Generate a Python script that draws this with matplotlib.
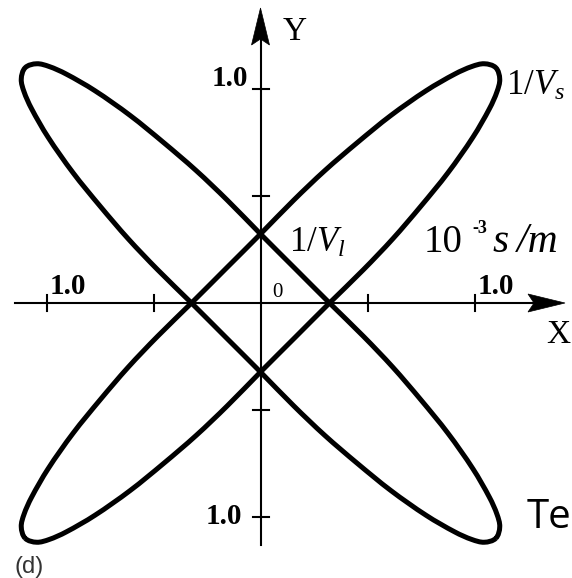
import numpy as np
import matplotlib.pyplot as plt
from matplotlib.path import Path
from matplotlib.patches import PathPatch, Polygon

plt.rcParams['mathtext.fontset'] = 'custom'
plt.rcParams['mathtext.rm'] = 'Liberation Serif'
plt.rcParams['mathtext.it'] = 'Liberation Serif:italic'
plt.rcParams['mathtext.bf'] = 'Liberation Serif:bold'

# half-width v of one slowness loop at distance u along its axis (10^-3 s/m)
prof_u = [0.0, 0.225, 0.45, 0.65, 0.85, 1.05, 1.25, 1.40, 1.48, 1.53, 1.555]
prof_v = [0.228, 0.228, 0.230, 0.225, 0.210, 0.189, 0.154, 0.114, 0.083, 0.051, 0.0]
loop_axes_deg = [135, 45]

tick_pos = [-1.0, -0.5, 0.5, 1.0]
tick_text = '1.0'

SCALE = 214.0  # pixels per unit
W, H = 572, 578
X0, Y0 = 260.5, 303.0

fig = plt.figure(figsize=(W / 100, H / 100), dpi=100)
ax = fig.add_axes([0, 0, 1, 1])
ax.set_xlim(-X0 / SCALE, (W - X0) / SCALE)
ax.set_ylim(-(H - Y0) / SCALE, Y0 / SCALE)
ax.set_aspect('equal')
ax.axis('off')


def loop_points(us, vs):
    us = np.asarray(us)
    vs = np.asarray(vs)
    # upper side from -tip to +tip, then lower side back
    up_u = np.concatenate([-us[:0:-1], us])
    up_v = np.concatenate([vs[:0:-1], vs])
    lo_u = up_u[-2:0:-1]
    lo_v = -up_v[-2:0:-1]
    return np.column_stack([np.concatenate([up_u, lo_u]),
                            np.concatenate([up_v, lo_v])])


def smooth_closed_path(pts):
    n = len(pts)
    tang = np.empty_like(pts)
    for i in range(n):
        d = pts[(i + 1) % n] - pts[i - 1]
        tang[i] = d / np.hypot(*d)
    verts = [pts[0]]
    codes = [Path.MOVETO]
    for i in range(n):
        p0 = pts[i]
        p1 = pts[(i + 1) % n]
        L = np.hypot(*(p1 - p0)) / 3
        verts += [p0 + tang[i] * L, p1 - tang[(i + 1) % n] * L, p1]
        codes += [Path.CURVE4] * 3
    return Path(verts, codes)


base = loop_points(prof_u, prof_v)
for ang in loop_axes_deg:
    a = np.deg2rad(ang)
    rot = np.array([[np.cos(a), -np.sin(a)], [np.sin(a), np.cos(a)]])
    pts = base @ rot.T
    ax.add_patch(PathPatch(smooth_closed_path(pts), fill=False, lw=3.6,
                           ec='black', joinstyle='round', zorder=3))

# axes with arrow heads
ax_lw = 1.5
x_end = (565 - X0) / SCALE
y_end = (Y0 - 8) / SCALE
ax.plot([-(X0 - 15) / SCALE, x_end - 0.1], [0, 0], color='black', lw=ax_lw, zorder=2)
ax.plot([0, 0], [-(545 - Y0) / SCALE, y_end - 0.1], color='black', lw=ax_lw, zorder=2)

hl, hw, nd = 37 / SCALE, 9 / SCALE, 6 / SCALE
ax.add_patch(Polygon([[x_end, 0], [x_end - hl, hw], [x_end - hl + nd, 0],
                      [x_end - hl, -hw]], closed=True, fc='black', ec='black', lw=0.5))
ax.add_patch(Polygon([[0, y_end], [hw, y_end - hl], [0, y_end - hl + nd],
                      [-hw, y_end - hl]], closed=True, fc='black', ec='black', lw=0.5))

tl = 8 / SCALE
for t in tick_pos:
    ax.plot([t, t], [-tl, tl], color='black', lw=ax_lw, zorder=2)
    ax.plot([-tl, tl], [t, t], color='black', lw=ax_lw, zorder=2)

serif = 'Liberation Serif'
bold = dict(family=serif, weight='bold', fontsize=21)
ax.text(-0.058, 1.0 + 3 / SCALE, tick_text, ha='right', va='baseline', **bold)
ax.text(-0.085, -1.0, tick_text, ha='right', va='center', **bold)
ax.text(-0.985, 0.04, tick_text, ha='left', va='baseline', **bold)
ax.text(1.015, 0.04, tick_text, ha='left', va='baseline', **bold)
ax.text(0.054, 0.028, '0', ha='left', va='baseline', family=serif, fontsize=15)

ax.text(0.105, 1.23, 'Y', ha='left', va='baseline', family=serif, fontsize=24)
ax.text(1.335, -0.187, 'X', ha='left', va='baseline', family=serif, fontsize=24)

ax.text(1.145, 0.972, r'$1/V_s$', ha='left', va='baseline', fontsize=25)
ax.text(0.135, 0.238, r'$1/V_l$', ha='left', va='baseline', fontsize=25)

# unit label: 10^-3 s/m
ax.text(0.76, 0.238, '10', ha='left', va='baseline', family=serif, fontsize=28)
ax.text(0.988, 0.325, '-3', ha='left', va='baseline', family=serif,
        weight='bold', fontsize=13)
ax.text(1.082, 0.238, 's', ha='left', va='baseline', family=serif,
        style='italic', fontsize=30)
ax.text(1.20, 0.238, '/m', ha='left', va='baseline', family=serif,
        style='italic', fontsize=30)

ax.text(15 / SCALE - X0 / SCALE, -(573 - Y0) / SCALE, '(d)', ha='left',
        va='baseline', family='Liberation Sans', fontsize=17, color='#333333')
ax.text((527 - X0) / SCALE, -(528 - Y0) / SCALE, 'Te', ha='left',
        va='baseline', family='Open Sans', fontsize=29)

fig.savefig('out.png', dpi=100)
